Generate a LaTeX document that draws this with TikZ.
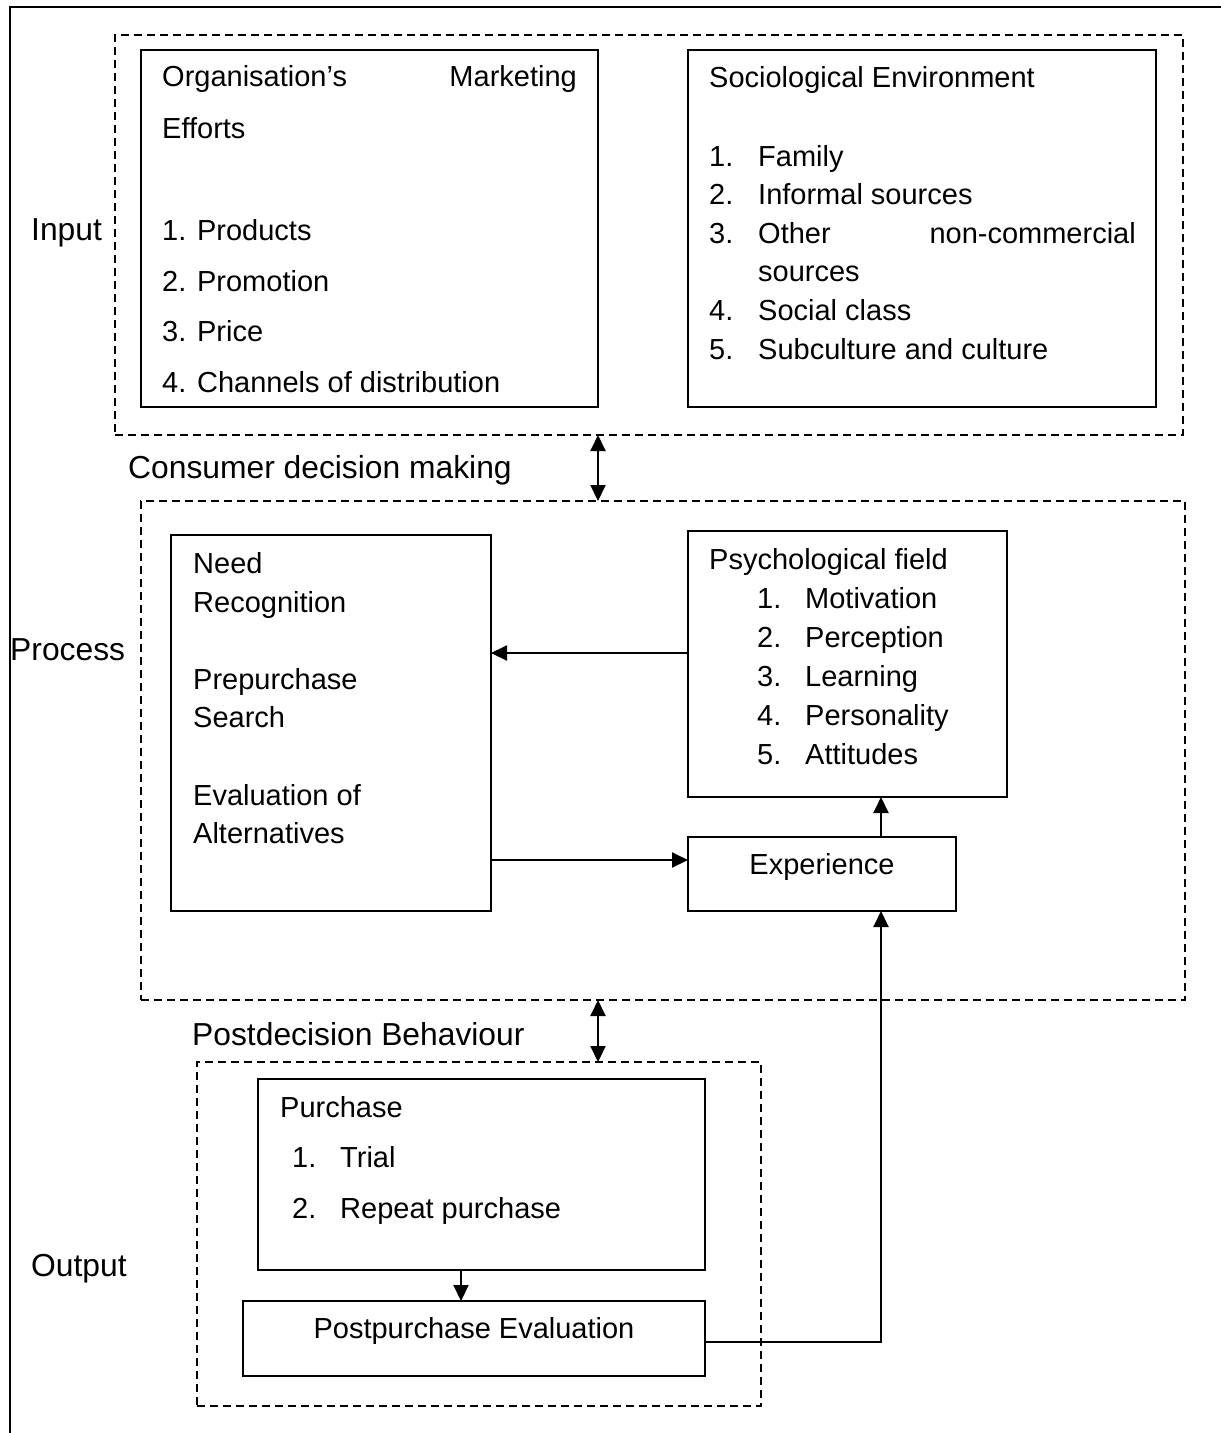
\documentclass[tikz,border=0pt]{standalone}
\usepackage{fontspec}
\setmainfont{Liberation Sans}
\usetikzlibrary{arrows.meta}
\begin{document}
\begin{tikzpicture}[x=1pt,y=-1pt,
  every node/.style={font=\fontsize{29}{35}\selectfont},
  box/.style={draw,line width=2pt,rectangle,inner sep=0pt,outer sep=0pt},
  group/.style={draw,line width=1.8pt,dash pattern=on 8pt off 5pt,rectangle,inner sep=0pt,outer sep=0pt},
  txt/.style={anchor=base west,inner sep=0pt},
  lbl/.style={anchor=base west,inner sep=0pt,font=\fontsize{31.8}{38}\selectfont},
  txtr/.style={anchor=base east,inner sep=0pt},
  txtc/.style={anchor=base,inner sep=0pt},
  arr/.style={line width=2pt,-{Triangle[length=16pt,width=15pt]}},
  darr/.style={line width=2pt,{Triangle[length=16pt,width=15pt]}-{Triangle[length=16pt,width=15pt]}}]
\useasboundingbox (0,0) rectangle (1221,1433);
% outer frame
\draw[line width=2pt] (10,1440) -- (10,7) -- (1230,7);

% group boxes
\node[group,minimum width=1068pt,minimum height=400pt] (inbox) at (649,235) {};
\node[group,minimum width=1044pt,minimum height=499pt] (procbox) at (663,750.5) {};
\node[group,minimum width=564pt,minimum height=344pt] (outbox) at (479,1234) {};

% solid boxes
\node[box,minimum width=457pt,minimum height=357pt] (org) at (369.5,228.5) {};
\node[box,minimum width=468pt,minimum height=357pt] (soc) at (922,228.5) {};
\node[box,minimum width=320pt,minimum height=376pt] (need) at (331,723) {};
\node[box,minimum width=319pt,minimum height=266pt] (psych) at (847.5,664) {};
\node[box,minimum width=268pt,minimum height=74pt] (exp) at (822,874) {};
\node[box,minimum width=447pt,minimum height=191pt] (purch) at (481.5,1174.5) {};
\node[box,minimum width=462pt,minimum height=75pt] (post) at (474,1338.5) {};

% side labels
\node[lbl] (linput) at (31,240) {Input};
\node[lbl] (lcdm) at (128,478) {Consumer decision making};
\node[lbl] (lproc) at (10,660) {Process};
\node[lbl] (lpdb) at (192,1045) {Postdecision Behaviour};
\node[lbl] (lout) at (31,1276) {Output};

% organisation box text
\node[txt] (o1) at (162,86) {Organisation’s};
\node[txtr] (o1b) at (577,86) {Marketing};
\node[txt] (o2) at (162,138) {Efforts};
\node[txt] (o3) at (162,240) {1. Products};
\node[txt] (o4) at (162,291) {2. Promotion};
\node[txt] (o5) at (162,341) {3. Price};
\node[txt] (o6) at (162,392) {4. Channels of distribution};

% sociological box text
\node[txt] (s0) at (709,87) {Sociological Environment};
\node[txt] (s1n) at (709,166) {1.};
\node[txt] (s1) at (758,166) {Family};
\node[txt] (s2n) at (709,204) {2.};
\node[txt] (s2) at (758,204) {Informal sources};
\node[txt] (s3n) at (709,243) {3.};
\node[txt] (s3) at (758,243) {Other};
\node[txtr] (s3b) at (1136,243) {non-commercial};
\node[txt] (s3c) at (758,281) {sources};
\node[txt] (s4n) at (709,320) {4.};
\node[txt] (s4) at (758,320) {Social class};
\node[txt] (s5n) at (709,359) {5.};
\node[txt] (s5) at (758,359) {Subculture and culture};

% need box text
\node[txt] (n1) at (193,573) {Need};
\node[txt] (n2) at (193,612) {Recognition};
\node[txt] (n3) at (193,689) {Prepurchase};
\node[txt] (n4) at (193,727) {Search};
\node[txt] (n5) at (193,805) {Evaluation of};
\node[txt] (n6) at (193,843) {Alternatives};

% psychological field text
\node[txt] (p0) at (709,569) {Psychological field};
\node[txt] (p1n) at (757,608) {1.};
\node[txt] (p1) at (805,608) {Motivation};
\node[txt] (p2n) at (757,647) {2.};
\node[txt] (p2) at (805,647) {Perception};
\node[txt] (p3n) at (757,686) {3.};
\node[txt] (p3) at (805,686) {Learning};
\node[txt] (p4n) at (757,725) {4.};
\node[txt] (p4) at (805,725) {Personality};
\node[txt] (p5n) at (757,764) {5.};
\node[txt] (p5) at (805,764) {Attitudes};

% experience
\node[txtc] (e1) at (822,874) {Experience};

% purchase box text
\node[txt] (u0) at (280,1117) {Purchase};
\node[txt] (u1n) at (292,1167) {1.};
\node[txt] (u1) at (340,1167) {Trial};
\node[txt] (u2n) at (292,1218) {2.};
\node[txt] (u2) at (340,1218) {Repeat purchase};

% postpurchase
\node[txtc] (pe) at (474,1338) {Postpurchase Evaluation};

% connectors
\draw[darr] (inbox.south -| org.east) -- (procbox.north -| org.east);
\draw[darr] (procbox.south -| org.east) -- (outbox.north -| org.east);
\draw[arr] ([yshift=11pt]psych.west) -- ([yshift=11pt]psych.west -| need.east);
\draw[arr] ([yshift=14pt]exp.west -| need.east) -- ([yshift=14pt]exp.west);
\draw[arr] ([xshift=59pt]exp.north) -- ([xshift=59pt]exp.north |- psych.south);
\draw[arr] ([xshift=-20.5pt]purch.south) -- ([xshift=-20.5pt]purch.south |- post.north);
\draw[arr] ([yshift=-3.5pt]post.east) -| ([xshift=59pt]exp.south);
\end{tikzpicture}
\end{document}
